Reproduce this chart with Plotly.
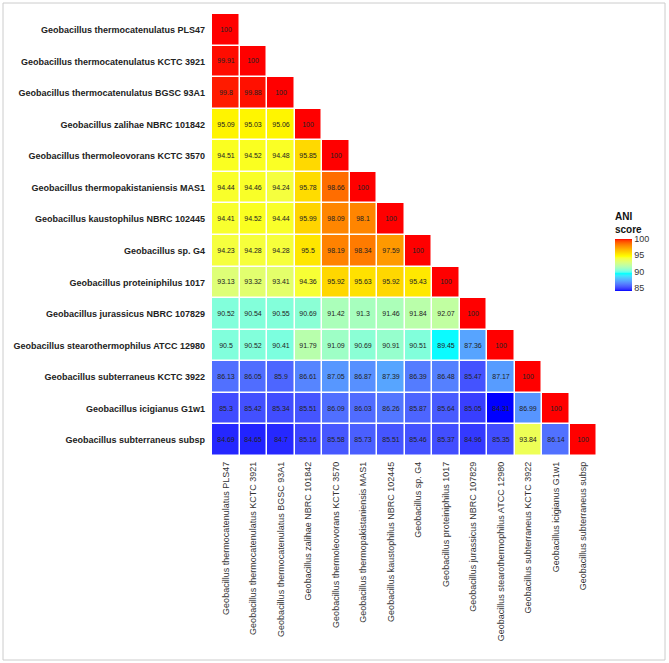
import plotly.graph_objects as go
import numpy as np

species = [
    "Geobacillus thermocatenulatus PLS47",
    "Geobacillus thermocatenulatus KCTC 3921",
    "Geobacillus thermocatenulatus BGSC 93A1",
    "Geobacillus zalihae NBRC 101842",
    "Geobacillus thermoleovorans KCTC 3570",
    "Geobacillus thermopakistaniensis MAS1",
    "Geobacillus kaustophilus NBRC 102445",
    "Geobacillus sp. G4",
    "Geobacillus proteiniphilus 1017",
    "Geobacillus jurassicus NBRC 107829",
    "Geobacillus stearothermophilus ATCC 12980",
    "Geobacillus subterraneus KCTC 3922",
    "Geobacillus icigianus G1w1",
    "Geobacillus subterraneus subsp",
]

row_pls47 = [100]
row_kctc3921 = [99.91, 100]
row_bgsc93a1 = [99.8, 99.88, 100]
row_zalihae = [95.09, 95.03, 95.06, 100]
row_thermoleovorans = [94.51, 94.52, 94.48, 95.85, 100]
row_mas1 = [94.44, 94.46, 94.24, 95.78, 98.66, 100]
row_kaustophilus = [94.41, 94.52, 94.44, 95.99, 98.09, 98.1, 100]
row_g4 = [94.23, 94.28, 94.28, 95.5, 98.19, 98.34, 97.59, 100]
row_proteiniphilus = [93.13, 93.32, 93.41, 94.36, 95.92, 95.63, 95.92, 95.43, 100]
row_jurassicus = [90.52, 90.54, 90.55, 90.69, 91.42, 91.3, 91.46, 91.84, 92.07, 100]
row_stearo = [90.5, 90.52, 90.41, 91.79, 91.09, 90.69, 90.91, 90.51, 89.45, 87.36, 100]
row_subt3922 = [86.13, 86.05, 85.9, 86.61, 87.05, 86.87, 87.39, 86.39, 86.48, 85.47, 87.17, 100]
row_icigianus = [85.3, 85.42, 85.34, 85.51, 86.09, 86.03, 86.26, 85.87, 85.64, 85.05, 84.31, 86.99, 100]
row_subsp = [84.69, 84.65, 84.7, 85.16, 85.58, 85.73, 85.51, 85.46, 85.37, 84.96, 85.35, 93.84, 86.14, 100]

rows = [row_pls47, row_kctc3921, row_bgsc93a1, row_zalihae, row_thermoleovorans,
        row_mas1, row_kaustophilus, row_g4, row_proteiniphilus, row_jurassicus,
        row_stearo, row_subt3922, row_icigianus, row_subsp]

colorbar_ticks = [85, 90, 95, 100]

n = len(species)
z = [[None] * n for _ in range(n)]
txt = [[""] * n for _ in range(n)]
for i, r in enumerate(rows):
    for j, v in enumerate(r):
        z[i][j] = v
        txt[i][j] = f"{v:g}"

allv = [v for r in rows for v in r]
zmin, zmax = min(allv), max(allv)

# Lab-space gradient between anchor colours (like ggplot2 gradientn)
anchors = [(0, 0, 255), (0, 255, 255), (255, 255, 0), (255, 0, 0)]

def srgb_to_lab(c):
    c = np.array(c) / 255.0
    lin = np.where(c <= 0.04045, c / 12.92, ((c + 0.055) / 1.055) ** 2.4)
    M = np.array([[0.4124564, 0.3575761, 0.1804375],
                  [0.2126729, 0.7151522, 0.0721750],
                  [0.0193339, 0.1191920, 0.9503041]])
    xyz = M @ lin
    wp = np.array([0.95047, 1.0, 1.08883])
    t = xyz / wp
    f = np.where(t > 216 / 24389, np.cbrt(t), (24389 / 27 * t + 16) / 116)
    return np.array([116 * f[1] - 16, 500 * (f[0] - f[1]), 200 * (f[1] - f[2])])

def lab_to_srgb(lab):
    L, a, b = lab
    fy = (L + 16) / 116
    fx = fy + a / 500
    fz = fy - b / 200
    def finv(f):
        return f ** 3 if f ** 3 > 216 / 24389 else (116 * f - 16) / (24389 / 27)
    wp = np.array([0.95047, 1.0, 1.08883])
    xyz = np.array([finv(fx), finv(fy), finv(fz)]) * wp
    Minv = np.array([[3.2404542, -1.5371385, -0.4985314],
                     [-0.9692660, 1.8760108, 0.0415560],
                     [0.0556434, -0.2040259, 1.0572252]])
    lin = Minv @ xyz
    lin = np.clip(lin, 0, 1)
    c = np.where(lin <= 0.0031308, 12.92 * lin, 1.055 * lin ** (1 / 2.4) - 0.055)
    return tuple(int(round(v * 255)) for v in np.clip(c, 0, 1))

labs = [srgb_to_lab(a) for a in anchors]
colorscale = []
steps = 12
for s in range(len(anchors) - 1):
    for k in range(steps + (1 if s == len(anchors) - 2 else 0)):
        t = k / steps
        lab = labs[s] * (1 - t) + labs[s + 1] * t
        rgb = lab_to_srgb(lab)
        pos = (s + t) / (len(anchors) - 1)
        colorscale.append([pos, f"rgb{rgb}"])
colorscale[-1][0] = 1.0

W, H = 669, 663
ml, mr, mt, mb = 212, 72, 14, 207
pw = W - ml - mr
ph = H - mt - mb

fig = go.Figure(go.Heatmap(
    z=z, x=species, y=species, text=txt, texttemplate="%{text}",
    textfont=dict(size=7, color="#222222", family="Liberation Sans, Arial"),
    colorscale=colorscale, zmin=zmin, zmax=zmax,
    xgap=1.5, ygap=1.5, hoverongaps=False,
    colorbar=dict(
        title=dict(text="ANI<br>score", side="top",
                   font=dict(size=10, weight="bold", color="#111111", family="Liberation Sans, Arial")),
        tickvals=colorbar_ticks, ticks="", outlinewidth=0,
        tickfont=dict(size=9, color="#333333", family="Liberation Sans, Arial"),
        thickness=17, lenmode="pixels", len=81,
        x=(615 - ml) / pw, xanchor="left", xpad=0,
        y=(H - mb - 250) / ph, yanchor="middle", ypad=0,
    ),
))

fig.update_xaxes(tickangle=-90, showgrid=False, zeroline=False, ticks="",
                 tickfont=dict(size=9, color="#333333", family="Liberation Sans, Arial"),
                 ticklabelstandoff=3)
fig.update_yaxes(autorange="reversed", showgrid=False, zeroline=False, ticks="",
                 tickfont=dict(size=9, color="#222222", weight="bold", family="Liberation Sans, Arial"),
                 ticklabelstandoff=6)

fig.update_layout(
    width=W, height=H,
    margin=dict(l=ml, r=mr, t=mt, b=mb),
    plot_bgcolor="white", paper_bgcolor="white",
    shapes=[dict(type="rect", xref="paper", yref="paper",
                 x0=(3 - ml) / pw, x1=(665 - ml) / pw,
                 y0=(H - mb - 660) / ph, y1=(H - mb - 3) / ph,
                 line=dict(color="#cccccc", width=1), fillcolor="rgba(0,0,0,0)", layer="below")],
)

fig.write_html("out.html")
